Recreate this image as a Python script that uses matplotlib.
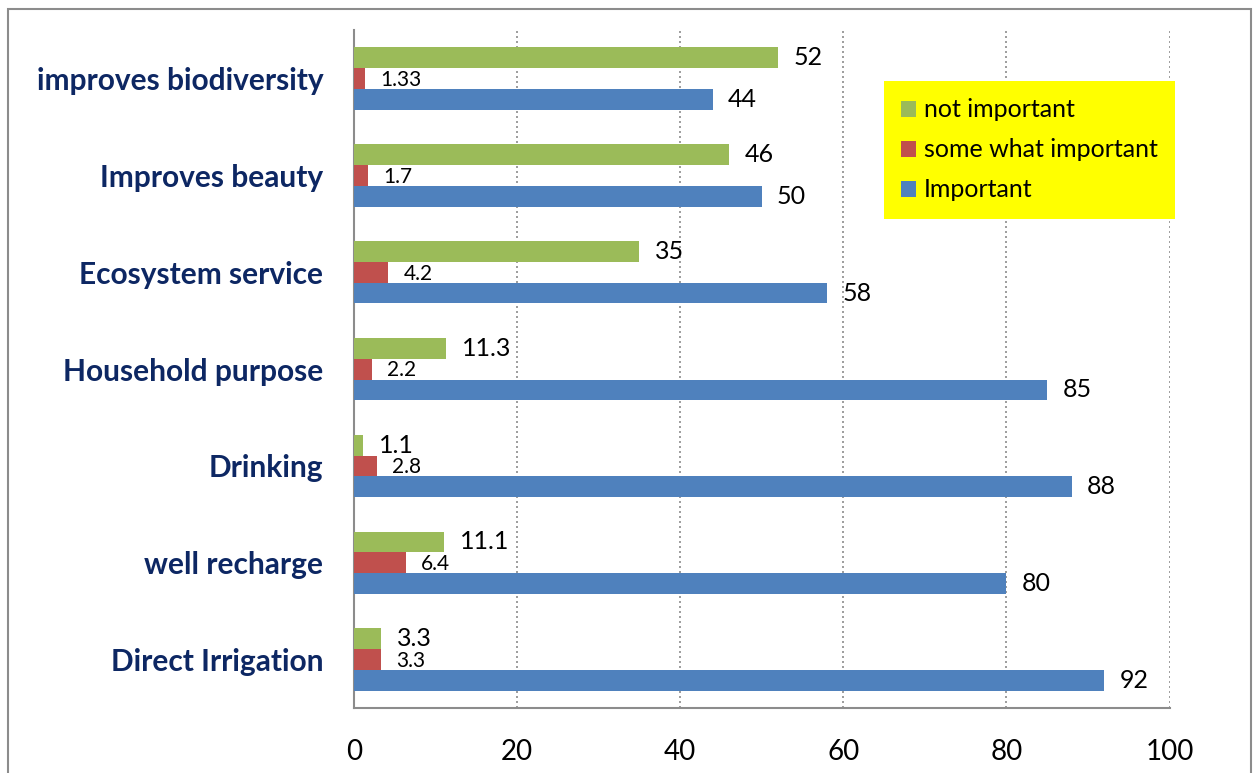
import matplotlib.pyplot as plt
import numpy as np
from matplotlib.patches import Rectangle

plt.rcParams['font.family'] = ['Lato', 'DejaVu Sans']

# Data (top to bottom as shown)
categories = ["improves biodiversity", "Improves beauty", "Ecosystem service",
              "Household purpose", "Drinking", "well recharge", "Direct Irrigation"]
not_important = [52, 46, 35, 11.3, 1.1, 11.1, 3.3]
somewhat_important = [1.33, 1.7, 4.2, 2.2, 2.8, 6.4, 3.3]
important = [44, 50, 58, 85, 88, 80, 92]
not_labels = ["52", "46", "35", "11.3", "1.1", "11.1", "3.3"]
some_labels = ["1.33", "1.7", "4.2", "2.2", "2.8", "6.4", "3.3"]
imp_labels = ["44", "50", "58", "85", "88", "80", "92"]

green = '#9bbb59'
red = '#c0504d'
blue = '#4f81bd'

fig = plt.figure(figsize=(12.59, 7.73), dpi=100)
ax = fig.add_axes([0.281, 0.084, 0.648, 0.877])

# outer frame
fig.patches.append(Rectangle((0.006, -0.05), 0.988, 1.038, transform=fig.transFigure,
                             fill=False, edgecolor='#8c8c8c', linewidth=1.5))

y = np.arange(len(categories))[::-1].astype(float)
h = 0.215

ax.barh(y + h, not_important, height=h, color=green, label='not important', zorder=3)
ax.barh(y, somewhat_important, height=h, color=red, label='some what important', zorder=3)
ax.barh(y - h, important, height=h, color=blue, label='Important', zorder=3)

for yi, v, s in zip(y, not_important, not_labels):
    ax.annotate(s, (v, yi + h), xytext=(11.5, 0), textcoords='offset points',
                va='center', ha='left', fontsize=18, zorder=4)
for yi, v, s in zip(y, somewhat_important, some_labels):
    ax.annotate(s, (v, yi), xytext=(11, -1), textcoords='offset points',
                va='center', ha='left', fontsize=15, zorder=4)
for yi, v, s in zip(y, important, imp_labels):
    ax.annotate(s, (v, yi - h), xytext=(11, 0), textcoords='offset points',
                va='center', ha='left', fontsize=18, zorder=4)

ax.set_xlim(0, 100)
ax.set_ylim(-0.5, len(categories) - 0.5)
ax.set_xticks([0, 20, 40, 60, 80, 100])
ax.set_yticks(y)
ax.set_yticklabels(categories, fontsize=21.5, fontweight='bold', color='#0d2763')
ax.tick_params(axis='both', which='both', length=0)
ax.tick_params(axis='x', labelsize=20, pad=22)
ax.tick_params(axis='y', pad=22)

ax.xaxis.grid(True, linestyle=(0, (1.2, 1.8)), color='#8c8c8c', linewidth=1.2, zorder=0)
ax.spines['top'].set_visible(False)
ax.spines['right'].set_visible(False)
for sp in ['left', 'bottom']:
    ax.spines[sp].set_color('#8c8c8c')
    ax.spines[sp].set_linewidth(1.5)

leg = ax.legend(loc='upper right', bbox_to_anchor=(1.007, 0.925), borderaxespad=0,
                frameon=True, fancybox=False, fontsize=18, handlelength=0.6,
                handleheight=0.6, labelspacing=0.68, borderpad=0.7, handletextpad=0.3)
leg.get_frame().set_facecolor('#ffff00')
leg.get_frame().set_edgecolor('none')
leg.get_frame().set_alpha(1)

fig.savefig('out.png', dpi=100)
